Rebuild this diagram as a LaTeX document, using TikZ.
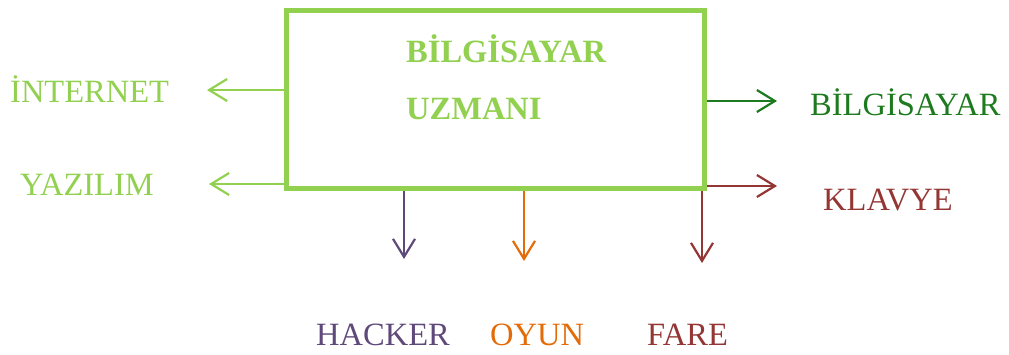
\documentclass[tikz,border=0pt]{standalone}
\usepackage{fontspec}
\setmainfont{Liberation Serif}
\usetikzlibrary{arrows.meta}
\definecolor{lgreen}{HTML}{92D050}
\definecolor{dgreen}{HTML}{1E7A1E}
\definecolor{brred}{HTML}{943634}
\definecolor{purp}{HTML}{5F497A}
\definecolor{orng}{HTML}{E36C09}
\tikzset{
  lbl/.style={anchor=base west, inner sep=0pt, font=\fontsize{32.5}{38}\selectfont},
  blbl/.style={lbl, font=\fontsize{32.5}{38}\selectfont\bfseries, text=lgreen},
  conn/.style={line width=2pt, -{Straight Barb[length=18pt,width=22pt,line width=2.2pt]}},
}
\begin{document}
\begin{tikzpicture}[x=1pt,y=-1pt]
\useasboundingbox (0,0) rectangle (1009,354);
\node (box) [draw=lgreen, line width=5pt, minimum width=418.5pt, minimum height=178pt, inner sep=0pt, anchor=north west] at (283.5,8) {};
\node (t1) [blbl] at (406,62) {BİLGİSAYAR};
\node (t2) [blbl] at (406,119) {UZMANI};
\node (inet) [lbl, text=lgreen] at (10,102) {İNTERNET};
\node (yaz) [lbl, text=lgreen] at (20,195) {YAZILIM};
\node (bil) [lbl, text=dgreen] at (810,115) {BİLGİSAYAR};
\node (klav) [lbl, text=brred] at (823,210) {KLAVYE};
\node (hack) [lbl, text=purp] at (316,345) {HACKER};
\node (oyun) [lbl, text=orng] at (490,345) {OYUN};
\node (fare) [lbl, text=brred] at (647,345) {FARE};
\coordinate (cInet) at (207,90);
\coordinate (cYaz) at (209,184);
\coordinate (cBil) at (777,101);
\coordinate (cKlav) at (777,186);
\coordinate (cHack) at (404,259);
\coordinate (cOyun) at (524,261);
\coordinate (cFare) at (702,263);
\draw[conn, lgreen] (box.west |- cInet) -- (cInet);
\draw[conn, lgreen] (box.west |- cYaz) -- (cYaz);
\draw[conn, dgreen] (box.east |- cBil) -- (cBil);
\draw[conn, brred] (box.east |- cKlav) -- (cKlav);
\draw[conn, purp] (box.south -| cHack) -- (cHack);
\draw[conn, orng] (box.south -| cOyun) -- (cOyun);
\draw[conn, brred] (box.south -| cFare) -- (cFare);
\end{tikzpicture}
\end{document}
